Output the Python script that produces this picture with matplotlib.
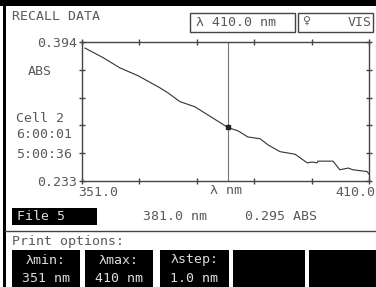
import matplotlib
matplotlib.use("Agg")
import matplotlib.pyplot as plt
from matplotlib.patches import Rectangle
from matplotlib.transforms import ScaledTranslation

# ---------------- data ----------------
wavelength = [351.6, 355.3, 358.8, 362.5, 367.0, 368.7, 371.1, 374.2, 377.3, 381.0,
              383.1, 385.1, 387.6, 389.2, 391.7, 394.8, 397.3, 398.3, 399.3, 399.5,
              402.6, 404.0, 405.7, 406.7, 409.6, 410.0]
absorb = [0.387, 0.376, 0.364, 0.355, 0.341, 0.335, 0.325, 0.319, 0.308, 0.295,
          0.291, 0.284, 0.282, 0.275, 0.267, 0.264, 0.254, 0.255, 0.254, 0.256,
          0.256, 0.246, 0.248, 0.246, 0.244, 0.241]

x_min, x_max = 351.0, 410.0
y_min, y_max = 0.233, 0.394
cursor_x, cursor_y = 381.0, 0.295

x_ticks = [351.0, 362.8, 374.6, 386.4, 398.2, 410.0]
x_labels = ["351.0", "", "", "", "", "410.0"]
y_ticks = [0.394, 0.3618, 0.3296, 0.2974, 0.2652, 0.233]
y_labels = ["0.394", "", "", "", "", "0.233"]

side_labels = ["ABS", "Cell 2", "6:00:01", "5:00:36"]
soft_keys = [("λmin:", "351 nm"), ("λmax:", "410 nm"), ("λstep:", "1.0 nm"), ("", ""), ("", "")]

W, H = 376, 287
GREY = "#5a5a5a"
LINE = "#444444"
FONT = "DejaVu Sans Mono"
FS = 9.5


def fx(x):
    return x / W


def fy(y):
    return 1 - y / H


fig = plt.figure(figsize=(W / 100, H / 100), dpi=100)
fig.patch.set_facecolor("white")


def box(x0, y0, x1, y1, face="black", edge="none", lw=0):
    fig.add_artist(Rectangle((fx(x0), fy(y1)), fx(x1) - fx(x0), fy(y0) - fy(y1),
                             transform=fig.transFigure, facecolor=face,
                             edgecolor=edge, linewidth=lw))


def txt(x, y, s, ha="left", color=GREY, size=FS):
    fig.text(fx(x), fy(y), s, ha=ha, va="center", color=color,
             family=FONT, fontsize=size)


# frame bits of the display
box(0, 0, W, 6)
box(3, 6, 6, H)

# header
txt(12, 17, "RECALL DATA")
box(190, 13, 295, 32, face="none", edge=LINE, lw=1)
txt(196, 22, "λ 410.0 nm")
box(298, 13, 373, 32, face="none", edge=LINE, lw=1)
txt(302, 22, "♀")
txt(372, 22, "VIS", ha="right")

# graph
ax = fig.add_axes([fx(82), fy(181), fx(369) - fx(82), fy(42) - fy(181)])
ax.plot(wavelength, absorb, color="#333333", lw=0.8)
ax.axvline(cursor_x, color="#777777", lw=0.8)
ax.plot([cursor_x], [cursor_y], marker="s", ms=3.5, color="#222222")
ax.set_xlim(x_min, x_max)
ax.set_ylim(y_min, y_max)
ax.set_xticks(x_ticks)
ax.set_xticklabels(x_labels, family=FONT, fontsize=FS, color=GREY)
ax.set_yticks(y_ticks)
ax.set_yticklabels(y_labels, family=FONT, fontsize=FS, color=GREY)
ax.tick_params(direction="inout", length=4.5, width=1, color=LINE,
               top=True, right=True, pad=1)
for s in ax.spines.values():
    s.set_color(LINE)
    s.set_linewidth(1)
xl = ax.get_xticklabels()
xl[0].set_ha("left")
xl[0].set_transform(xl[0].get_transform() + ScaledTranslation(-0.04, 0, fig.dpi_scale_trans))
xl[-1].set_ha("right")
xl[-1].set_transform(xl[-1].get_transform() + ScaledTranslation(0.06, 0, fig.dpi_scale_trans))
ax.text(0.5, -0.065, "λ nm", transform=ax.transAxes, ha="center", va="center",
        family=FONT, fontsize=FS, color=GREY)

txt(28, 72, side_labels[0])
txt(16, 118, side_labels[1])
txt(16, 135, side_labels[2])
txt(16, 155, side_labels[3])

# status row
box(12, 208, 97, 225)
txt(17, 216, "File 5", color="#dddddd")
txt(143, 216, "%.1f nm" % cursor_x)
txt(245, 216, "%.3f ABS" % cursor_y)
fig.add_artist(plt.Line2D([fx(5), fx(W)], [fy(231), fy(231)], transform=fig.transFigure,
                          color=LINE, lw=1))

# soft keys
txt(12, 241, "Print options:")
key_edges = [(12, 80), (85, 153), (160, 229), (233, 305), (309, W)]
for (k0, k1), (top, bottom) in zip(key_edges, soft_keys):
    box(k0, 250, k1, H)
    txt((k0 + k1) / 2, 260, top, ha="center", color="#dddddd")
    txt((k0 + k1) / 2, 279, bottom, ha="center", color="#dddddd")

fig.savefig("out.png", dpi=100, facecolor="white")
